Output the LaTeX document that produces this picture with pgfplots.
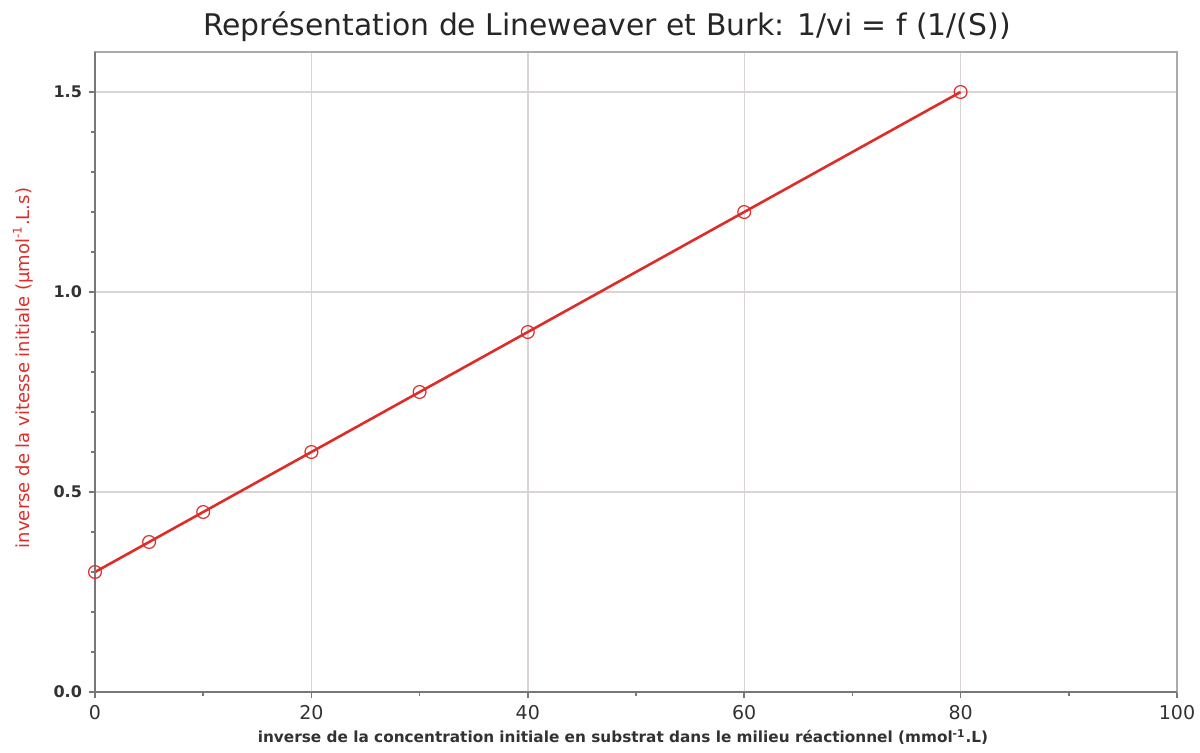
\documentclass[border=0pt]{standalone}
\usepackage{pgfplots}
\pgfplotsset{compat=1.18}
\usepackage{fontspec}
\setmainfont{DejaVu Sans}
\definecolor{lbred}{RGB}{222,45,40}
\definecolor{gridc}{RGB}{218,212,212}
\definecolor{axc}{RGB}{120,120,120}
\definecolor{frc}{RGB}{175,170,170}
\definecolor{txt}{RGB}{50,50,50}
\begin{document}
\begin{tikzpicture}
\path[use as bounding box] (-47.5pt,-30pt) rectangle (552.5pt,346pt);
\begin{axis}[
  scale only axis,
  width=541pt, height=320pt,
  xmin=0, xmax=100, ymin=0, ymax=1.6,
  xtick={0,20,40,60,80,100},
  ytick={0,0.5,1.0,1.5},
  minor x tick num=1,
  minor y tick num=4,
  tick pos=left,
  tick align=outside,
  major tick length=3pt,
  minor tick length=2pt,
  every tick/.style={axc, line width=0.8pt},
  grid=major,
  major grid style={gridc, line width=0.7pt},
  axis line style={frc, line width=0.7pt},
  /pgf/number format/assume math mode=true,
  yticklabel style={font=\fontsize{8}{10}\selectfont\bfseries, text=txt,
    /pgf/number format/fixed, /pgf/number format/fixed zerofill,
    /pgf/number format/precision=1},
  xticklabel style={font=\fontsize{9.5}{12}\selectfont, text=txt},
  clip=false,
]
\addplot[lbred, line width=1.3pt] coordinates {(0,0.30) (80,1.50)};
\addplot[only marks, mark=o, mark size=3.2pt, lbred, mark options={line width=0.6pt}]
  coordinates {(0,0.30) (5,0.375) (10,0.45) (20,0.60) (30,0.75) (40,0.90) (60,1.20) (80,1.50)};
\draw[axc, line width=1pt] (rel axis cs:0,1) -- (rel axis cs:0,0) -- (rel axis cs:1,0);
\end{axis}
\node[font=\fontsize{14.9}{17}\selectfont, text=black!85] at (256pt,332.5pt) {Représentation de Lineweaver et Burk: 1/vi = f (1/(S))};
\node[font=\fontsize{7.65}{9}\selectfont\bfseries, text=txt] at (264pt,-22.5pt) {inverse de la concentration initiale en substrat dans le milieu réactionnel (mmol\textsuperscript{-1}.L)};
\node[rotate=90, font=\fontsize{9}{11}\selectfont, text=lbred] at (-36pt,162pt) {inverse de la vitesse initiale (µmol\textsuperscript{-1}.L.s)};
\end{tikzpicture}
\end{document}
